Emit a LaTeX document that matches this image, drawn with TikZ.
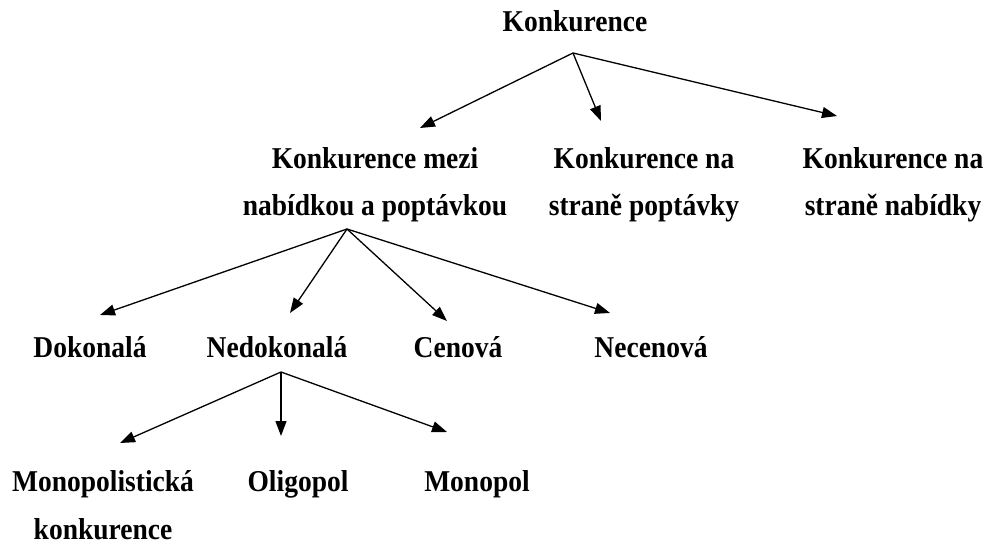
\documentclass[tikz,border=0pt]{standalone}
\usepackage{fontspec}
\setmainfont{Liberation Serif}
\usetikzlibrary{arrows.meta}

\tikzset{
  lbl/.style={font=\bfseries\fontsize{27.5}{43.6}\selectfont, align=center, anchor=base,
    inner sep=0pt, yscale=1.1, transform shape},
  arr/.style={-{Triangle[length=15pt,width=11pt]}, line width=1.3pt},
}

\begin{document}
\begin{tikzpicture}[x=1pt,y=1pt]
        \useasboundingbox (0,0) rectangle (988,-545);

        % top
        \node[lbl] (konk) at (575,-32) {Konkurence};

        \node[lbl] (mezi) at (375,-216) {Konkurence mezi\\nabídkou a poptávkou};
        \node[lbl] (popt) at (644,-216) {Konkurence na\\straně poptávky};
        \node[lbl] (nab)  at (893,-216) {Konkurence na\\straně nabídky};

        \node[lbl] (dok)   at (90,-357)  {Dokonalá};
        \node[lbl] (nedok) at (277,-357) {Nedokonalá};
        \node[lbl] (cen)   at (458,-357) {Cenová};
        \node[lbl] (necen) at (651,-357) {Necenová};

        \node[lbl] (mpk)  at (103,-539) {Monopolistická\\konkurence};
        \node[lbl] (olig) at (298,-491) {Oligopol};
        \node[lbl] (mpol) at (477,-491) {Monopol};

        % forks
        \coordinate (f0) at ([xshift=-2pt,yshift=-21pt]konk.base);
        \coordinate (f1) at ([xshift=-28pt,yshift=-13pt]mezi.base);
        \coordinate (f2) at ([xshift=4pt,yshift=-15pt]nedok.base);

        \draw[arr] (f0) -- ([xshift=45pt,yshift=88pt]mezi.base);
        \draw[arr] (f0) -- ([xshift=-43pt,yshift=95pt]popt.base);
        \draw[arr] (f0) -- ([xshift=-56pt,yshift=100pt]nab.base);

        \draw[arr] (f1) -- ([xshift=10pt,yshift=42pt]dok.base);
        \draw[arr] (f1) -- ([xshift=13pt,yshift=44pt]nedok.base);
        \draw[arr] (f1) -- ([xshift=-11pt,yshift=36pt]cen.base);
        \draw[arr] (f1) -- ([xshift=-41pt,yshift=44pt]necen.base);

        \draw[arr] (f2) -- ([xshift=17pt,yshift=96pt]mpk.base);
        \draw[arr] (f2) -- ([xshift=-17pt,yshift=55pt]olig.base);
        \draw[arr] (f2) -- ([xshift=-30pt,yshift=59pt]mpol.base);

    \end{tikzpicture}
\end{document}
